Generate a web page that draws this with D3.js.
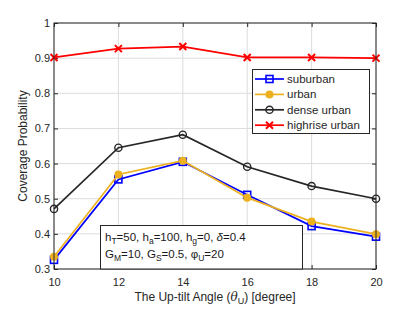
<!DOCTYPE html>
<html><head><meta charset="utf-8">
<script src="https://cdn.jsdelivr.net/npm/d3@7"></script>
<style>body{margin:0;background:#fff}svg{display:block}text{font-family:"Liberation Sans",Arial,sans-serif}</style>
</head><body><svg id="c" width="415" height="312"></svg>
<script>
const angles = [10, 12, 14, 16, 18, 20];
const suburban = [0.326, 0.555, 0.605, 0.511, 0.422, 0.392];
const urban = [0.335, 0.569, 0.608, 0.503, 0.435, 0.399];
const denseUrban = [0.471, 0.645, 0.682, 0.591, 0.536, 0.500];
const highriseUrban = [0.902, 0.927, 0.933, 0.902, 0.902, 0.900];
const seriesNames = ["suburban", "urban", "dense urban", "highrise urban"];
const xTicks = [10, 12, 14, 16, 18, 20];
const yTicks = [0.3, 0.4, 0.5, 0.6, 0.7, 0.8, 0.9, 1];

const svg = d3.select("#c");
const L = 54, R = 376, T = 23, B = 269;
const x = d3.scaleLinear().domain([10, 20]).range([L, R]);
const y = d3.scaleLinear().domain([0.3, 1]).range([B, T]);
const axisCol = "#262626";

// grid
const g = svg.append("g");
g.selectAll(".gx").data(xTicks).join("line").attr("x1", d => x(d)).attr("x2", d => x(d)).attr("y1", T).attr("y2", B).attr("stroke", "#dcdcdc").attr("stroke-width", 1);
g.selectAll(".gy").data(yTicks).join("line").attr("x1", L).attr("x2", R).attr("y1", d => y(d)).attr("y2", d => y(d)).attr("stroke", "#dcdcdc").attr("stroke-width", 1);

// axes via d3
const fs = 11;
const xa = svg.append("g").attr("transform", `translate(0,${B})`).call(d3.axisBottom(x).tickValues(xTicks).tickSizeInner(-4).tickSizeOuter(0).tickPadding(9).tickFormat(d3.format("d")));
const ya = svg.append("g").attr("transform", `translate(${L},0)`).call(d3.axisLeft(y).tickValues(yTicks).tickSizeInner(-4).tickSizeOuter(0).tickPadding(4).tickFormat(d => d === 1 ? "1" : d3.format(".1f")(d)));
const xt = svg.append("g").attr("transform", `translate(0,${T})`).call(d3.axisTop(x).tickValues(xTicks).tickSizeInner(-4).tickSizeOuter(0).tickFormat(""));
const yr = svg.append("g").attr("transform", `translate(${R},0)`).call(d3.axisRight(y).tickValues(yTicks).tickSizeInner(-4).tickSizeOuter(0).tickFormat(""));
[xa, ya, xt, yr].forEach(a => {
  a.select(".domain").remove();
  a.selectAll("line").attr("stroke", axisCol);
  a.selectAll("text").attr("fill", axisCol).style("font-size", fs + "px").style("font-family", '"Liberation Sans",Arial,sans-serif');
});

// series
const lineGen = d3.line().x((d, i) => x(angles[i])).y(d => y(d));
const cfg = [
  {v: suburban, c: "#0000ff", m: "square"},
  {v: urban, c: "#EDB120", m: "dot"},
  {v: denseUrban, c: "#262626", m: "circle"},
  {v: highriseUrban, c: "#ff0000", m: "x"}
];
function marker(sel, m, c, cx, cy) {
  if (m === "square") sel.append("rect").attr("x", cx - 3.5).attr("y", cy - 3.5).attr("width", 7).attr("height", 7).attr("fill", "none").attr("stroke", c).attr("stroke-width", 1.6);
  else if (m === "dot") sel.append("circle").attr("cx", cx).attr("cy", cy).attr("r", 4).attr("fill", c);
  else if (m === "circle") sel.append("circle").attr("cx", cx).attr("cy", cy).attr("r", 3.6).attr("fill", "none").attr("stroke", c).attr("stroke-width", 1.4);
  else sel.append("path").attr("d", `M${cx-3.5},${cy-3.5}L${cx+3.5},${cy+3.5}M${cx-3.5},${cy+3.5}L${cx+3.5},${cy-3.5}`).attr("stroke", c).attr("stroke-width", 2);
}
const pg = svg.append("g");
cfg.forEach(s => {
  pg.append("path").datum(s.v).attr("d", lineGen).attr("fill", "none").attr("stroke", s.c).attr("stroke-width", 1.7);
  s.v.forEach((d, i) => marker(pg, s.m, s.c, x(angles[i]), y(d)));
});

// box
svg.append("rect").attr("x", L).attr("y", T).attr("width", R - L).attr("height", B - T).attr("fill", "none").attr("stroke", axisCol).attr("stroke-width", 1);

// legend
const lg = svg.append("g");
lg.append("rect").attr("x", 252.5).attr("y", 69.5).attr("width", 117).attr("height", 64).attr("fill", "#fff").attr("stroke", axisCol).attr("stroke-width", 1);
cfg.forEach((s, i) => {
  const ry = 79 + i * 15.4;
  lg.append("line").attr("x1", 255).attr("x2", 284).attr("y1", ry).attr("y2", ry).attr("stroke", s.c).attr("stroke-width", 1.7);
  marker(lg, s.m, s.c, 269.5, ry);
  lg.append("text").attr("x", 287).attr("y", ry + 4).attr("fill", axisCol).style("font-size", "11.5px").text(seriesNames[i]);
});

// annotation
const an = svg.append("g");
an.append("rect").attr("x", 100.5).attr("y", 225.5).attr("width", 202).attr("height", 43.5).attr("fill", "#fff").attr("stroke", axisCol).attr("stroke-width", 1);
const t1 = an.append("text").attr("x", 105).attr("y", 241).attr("fill", "#1a1a1a").style("font-size", "11.5px");
t1.append("tspan").text("h");
t1.append("tspan").attr("dy", 3).style("font-size", "8.5px").text("T");
t1.append("tspan").attr("dy", -3).text("=50, h");
t1.append("tspan").attr("dy", 3).style("font-size", "8.5px").text("a");
t1.append("tspan").attr("dy", -3).text("=100, h");
t1.append("tspan").attr("dy", 3).style("font-size", "8.5px").text("g");
t1.append("tspan").attr("dy", -3).text("=0, ");
t1.append("tspan").style("font-style", "italic").text("δ");
t1.append("tspan").text("=0.4");
const t2 = an.append("text").attr("x", 105).attr("y", 258).attr("fill", "#1a1a1a").style("font-size", "11.5px");
t2.append("tspan").text("G");
t2.append("tspan").attr("dy", 3).style("font-size", "8.5px").text("M");
t2.append("tspan").attr("dy", -3).text("=10, G");
t2.append("tspan").attr("dy", 3).style("font-size", "8.5px").text("S");
t2.append("tspan").attr("dy", -3).text("=0.5, φ");
t2.append("tspan").attr("dy", 3).style("font-size", "8.5px").text("U");
t2.append("tspan").attr("dy", -3).text("=20");

// axis labels
svg.append("text").attr("transform", "translate(27,146) rotate(-90)").attr("text-anchor", "middle").attr("fill", axisCol).style("font-size", "12px").text("Coverage Probability");
const xl = svg.append("text").attr("x", 215).attr("y", 301).attr("text-anchor", "middle").attr("fill", axisCol).style("font-size", "12px");
xl.append("tspan").text("The Up-tilt Angle (");
xl.append("tspan").style("font-style", "italic").style("font-family", '"DejaVu Serif",serif').text("θ");
xl.append("tspan").attr("dy", 3).style("font-size", "9px").text("U");
xl.append("tspan").attr("dy", -3).text(") [degree]");
</script></body></html>
